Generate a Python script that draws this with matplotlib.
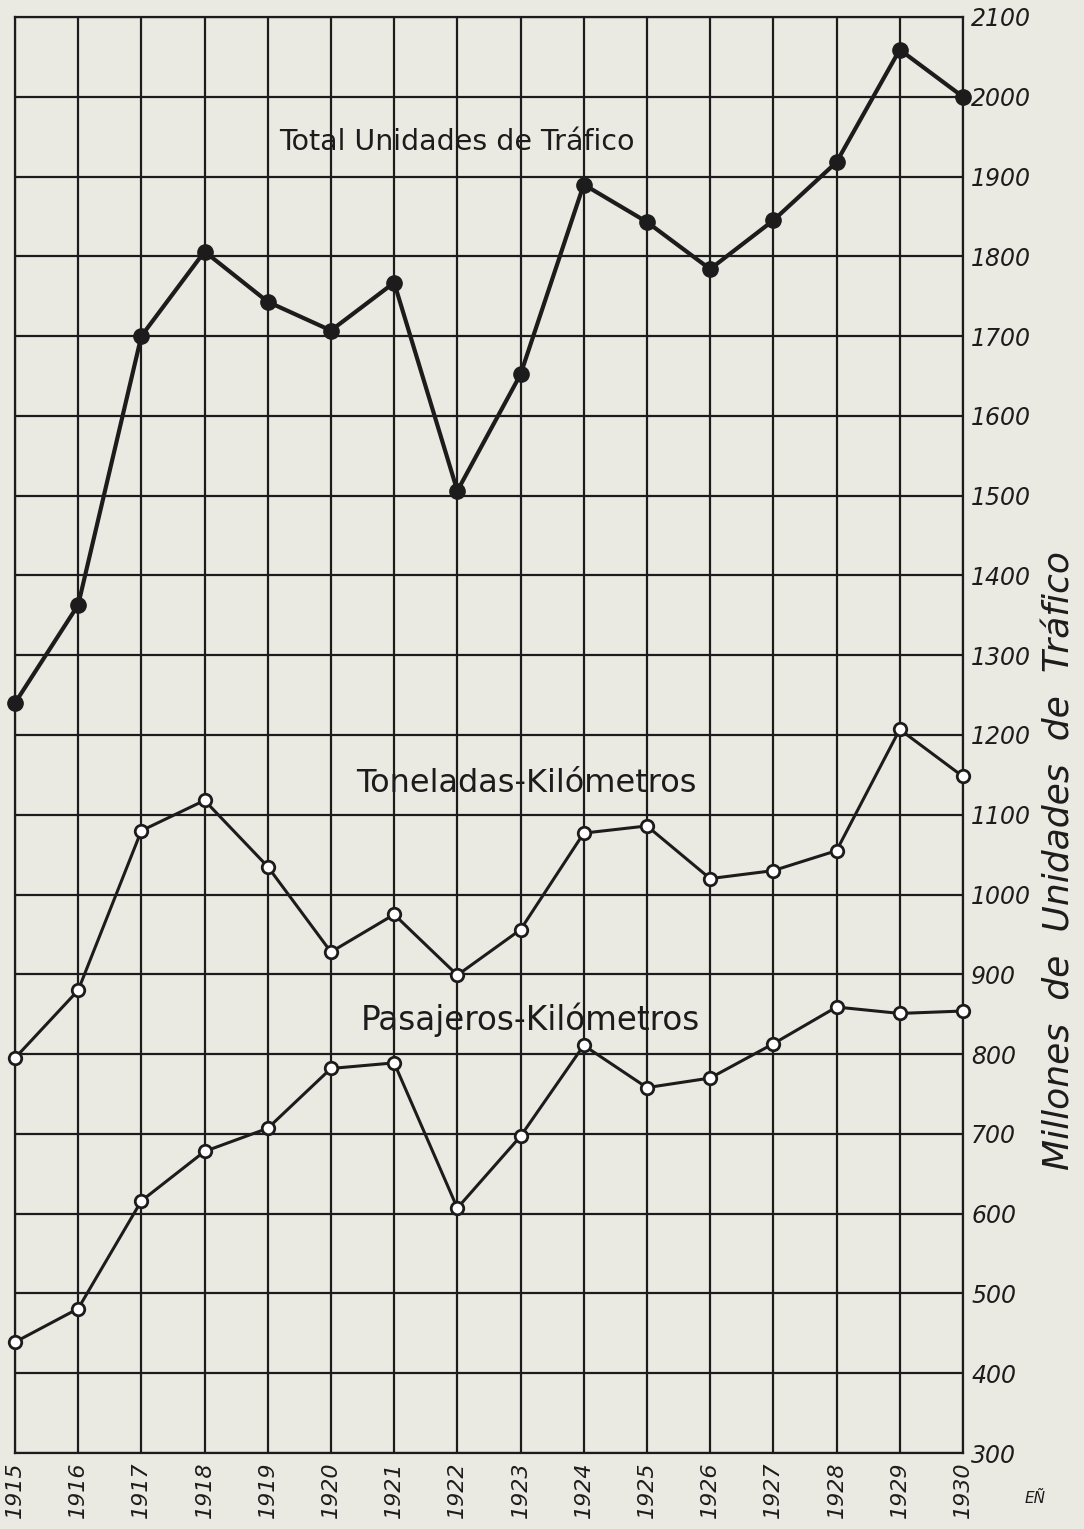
import numpy as np
import matplotlib.pyplot as plt

# Datos (millones de unidades de tráfico)
years = list(range(1915, 1931))
total = [1240, 1363, 1700, 1806, 1743, 1707, 1767, 1506, 1652, 1890, 1843, 1784, 1845, 1918, 2059, 2000]
toneladas = [795, 880, 1080, 1118, 1035, 928, 975, 899, 956, 1077, 1086, 1020, 1030, 1055, 1207, 1148]
pasajeros = [439, 481, 616, 678, 707, 782, 789, 607, 697, 811, 758, 770, 813, 859, 851, 854]

y_ticks = list(range(300, 2101, 100))
ink = '#1c1c1c'
paper = '#ebeae2'

fig = plt.figure(figsize=(10.84, 15.29), dpi=100, facecolor=paper)
ax = fig.add_axes([0.0138, 0.0497, 0.8745, 0.9392])
ax.set_facecolor(paper)

# Rejilla
for x in years:
    ax.axvline(x, color=ink, lw=1.6, zorder=1)
for y in y_ticks:
    ax.axhline(y, color=ink, lw=1.6, zorder=1)

# Series
ax.plot(years, total, color=ink, lw=3, marker='o', ms=11, mfc=ink, mec=ink,
        zorder=3, clip_on=False)
ax.plot(years, toneladas, color=ink, lw=2.2, marker='o', ms=9, mfc='white', mec=ink,
        mew=2, zorder=3, clip_on=False)
ax.plot(years, pasajeros, color=ink, lw=2.2, marker='o', ms=9, mfc='white', mec=ink,
        mew=2, zorder=3, clip_on=False)

ax.set_xlim(1915, 1930)
ax.set_ylim(300, 2100)
for s in ax.spines.values():
    s.set_color(ink)
    s.set_linewidth(1.6)

# Ejes
ax.yaxis.tick_right()
ax.set_yticks(y_ticks)
ax.set_yticklabels([str(v) for v in y_ticks], fontsize=17, style='italic', color=ink)
ax.set_xticks(years)
ax.set_xticklabels([str(v) for v in years], fontsize=16, style='italic', rotation=90, color=ink)
ax.tick_params(length=0, pad=6)

# Título del eje (a la derecha, girado)
fig.text(1059 / 1084, 1 - 860 / 1529, 'Millones  de  Unidades  de  Tráfico',
         fontsize=26, style='italic', color=ink, rotation=90, ha='center', va='center')

# Rótulos de las series
ax.text(1922.0, 1943, 'Total Unidades de Tráfico', fontsize=20.5, ha='center', va='center', color=ink)
ax.text(1923.1, 1139, 'Toneladas-Kilómetros', fontsize=23, ha='center', va='center', color=ink)
ax.text(1923.15, 843, 'Pasajeros-Kilómetros', fontsize=23.5, ha='center', va='center', color=ink)

fig.text(0.955, 0.017, 'EÑ', fontsize=11, style='italic', color=ink, ha='center')

fig.savefig('out.png', dpi=100, facecolor=paper)
